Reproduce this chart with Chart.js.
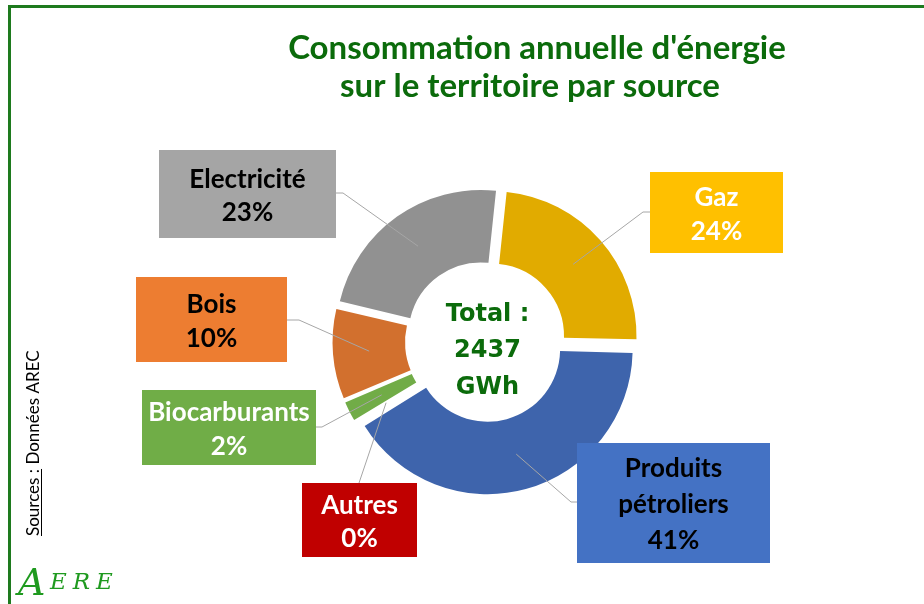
<!DOCTYPE html>
<html>
<head>
<meta charset="utf-8">
<script src="https://cdn.jsdelivr.net/npm/chart.js@4.4.1/dist/chart.umd.min.js"></script>
<style>
  html, body { margin: 0; padding: 0; background: #ffffff; }
  #wrap { position: relative; width: 924px; height: 604px; }
</style>
</head>
<body>
<div id="wrap"><canvas id="energyChart"></canvas></div>
<script>
// data (GWh, total 2437)
var categories = ['Gaz', 'Produits pétroliers', 'Autres', 'Biocarburants', 'Bois', 'Electricité'];
var labelLines = [['Gaz'], ['Produits', 'pétroliers'], ['Autres'], ['Biocarburants'], ['Bois'], ['Electricité']];
var consumptionGWh = [577, 995, 2, 58, 246, 559];
var titleLines = ["Consommation annuelle d'énergie", 'sur le territoire par source'];
var unitLabel = 'GWh';
var sourceLabel = 'Sources :';
var sourceText = ' Données AREC';

var sliceColors = ['#E1AB00', '#3E64AC', '#A80000', '#71AC47', '#D2702E', '#919191'];

// label boxes: x, y, w, h, fill, text colour, elbow of leader line, point on box edge
var boxes = [
  { x: 650, y: 172, w: 133, h: 81,  fill: '#FFC000', color: '#FFFFFF', elbow: [643, 212], edge: [650, 212] },
  { x: 577, y: 443, w: 193, h: 120, fill: '#4472C4', color: '#000000', elbow: [571, 502], edge: [577, 502] },
  { x: 302, y: 483, w: 115, h: 74,  fill: '#C00000', color: '#FFFFFF', elbow: null,       edge: [359, 483] },
  { x: 142, y: 390, w: 174, h: 75,  fill: '#70AD47', color: '#FFFFFF', elbow: [322, 427], edge: [316, 427] },
  { x: 136, y: 277, w: 151, h: 85,  fill: '#ED7D31', color: '#000000', elbow: [299, 320], edge: [287, 320] },
  { x: 159, y: 150, w: 177, h: 88,  fill: '#A5A5A5', color: '#000000', elbow: [343, 193], edge: [336, 193] }
];

var green = '#0B6B0B';
var total = consumptionGWh.reduce(function (a, b) { return a + b; }, 0);

function pct(v) {
  return Math.round(v / total * 100) + '%';
}

// chart.js grows the radius of narrow offset arcs; keep every ring the same size
function radiusShift(arc) {
  var off = (arc.options.offset || 0) / 4;
  return off * (1 - Math.sin(Math.min(Math.PI, arc.circumference || 0)));
}

var overlayPlugin = {
  id: 'overlay',
  beforeDatasetsDraw: function (chart) {
    chart.getDatasetMeta(0).data.forEach(function (arc) {
      var s = radiusShift(arc);
      arc._shift = s;
      arc.innerRadius -= s;
      arc.outerRadius -= s;
    });
  },
  afterDatasetsDraw: function (chart) {
    var ctx = chart.ctx;
    var meta = chart.getDatasetMeta(0);
    meta.data.forEach(function (arc) {
      arc.innerRadius += arc._shift;
      arc.outerRadius += arc._shift;
    });
    ctx.save();

    // green frame
    ctx.strokeStyle = '#1E7A1E';
    ctx.lineWidth = 3;
    ctx.beginPath();
    ctx.moveTo(9.5, 604);
    ctx.lineTo(9.5, 6.5);
    ctx.lineTo(924, 6.5);
    ctx.stroke();

    // title
    ctx.fillStyle = green;
    ctx.textAlign = 'center';
    ctx.textBaseline = 'alphabetic';
    ctx.font = 'bold 33px Lato';
    ctx.fillText(titleLines[0], 537, 59);
    ctx.fillText(titleLines[1], 530, 97);

    // leader lines
    ctx.strokeStyle = '#A6A6A6';
    ctx.lineWidth = 1;
    meta.data.forEach(function (arc, i) {
      var p = arc.getProps(['x', 'y', 'startAngle', 'endAngle', 'innerRadius', 'outerRadius'], true);
      var a = (p.startAngle + p.endAngle) / 2;
      var r = (p.innerRadius + p.outerRadius) / 2 + arc.options.offset / 4;
      var b = boxes[i];
      ctx.beginPath();
      ctx.moveTo(p.x + Math.cos(a) * r, p.y + Math.sin(a) * r);
      if (b.elbow) ctx.lineTo(b.elbow[0], b.elbow[1]);
      ctx.lineTo(b.edge[0], b.edge[1]);
      ctx.stroke();
    });

    // label boxes
    ctx.font = 'bold 26px Lato';
    boxes.forEach(function (b, i) {
      ctx.fillStyle = b.fill;
      ctx.fillRect(b.x, b.y, b.w, b.h);
      var lines = labelLines[i].concat([pct(consumptionGWh[i])]);
      var step = lines.length > 2 ? 36 : 33.5;
      var mid = b.y + b.h / 2 + 1;
      ctx.fillStyle = b.color;
      lines.forEach(function (t, k) {
        var cy = mid + (k - (lines.length - 1) / 2) * step;
        ctx.fillText(t, b.x + b.w / 2, cy + 9.3);
      });
    });

    // total in the hole
    var c = meta.data[0];
    ctx.fillStyle = green;
    ctx.font = 'bold 24px "DejaVu Sans"';
    var centre = ['Total :', String(total), unitLabel];
    var dy = [-29, 7, 43.5];
    centre.forEach(function (t, k) {
      ctx.fillText(t, c.x + 2, c.y + dy[k] + 8.7);
    });

    // source, written upwards
    ctx.save();
    ctx.translate(39, 536);
    ctx.rotate(-Math.PI / 2);
    ctx.textAlign = 'left';
    ctx.fillStyle = '#000000';
    ctx.font = '17px Lato';
    ctx.fillText(sourceLabel, 0, 0);
    var w0 = ctx.measureText(sourceLabel).width;
    ctx.fillText(sourceText, w0, 0);
    ctx.fillRect(0, 2, w0, 1);
    ctx.restore();

    // logo
    ctx.fillStyle = '#1F9A1F';
    ctx.textAlign = 'left';
    ctx.font = 'italic 38px "DejaVu Serif"';
    ctx.fillText('A', 18, 595);
    ctx.font = 'italic 23px "DejaVu Serif"';
    ctx.letterSpacing = '6px';
    ctx.fillText('ERE', 50, 589);
    ctx.letterSpacing = '0px';

    ctx.restore();
  }
};

var ctx = document.getElementById('energyChart').getContext('2d');

var energyChart = new Chart(ctx, {
  type: 'doughnut',
  data: {
    labels: categories,
    datasets: [{
      data: consumptionGWh,
      backgroundColor: sliceColors,
      borderWidth: 0,
      offset: 32
    }]
  },
  options: {
    responsive: true,
    maintainAspectRatio: false,
    animation: false,
    rotation: 6,
    cutout: '50%',
    layout: {
      padding: { left: 324.5, top: 180.5, right: 277.5, bottom: 101.5 }
    },
    plugins: {
      legend: { display: false },
      tooltip: { enabled: false }
    }
  },
  plugins: [overlayPlugin]
});
</script>
</body>
</html>
